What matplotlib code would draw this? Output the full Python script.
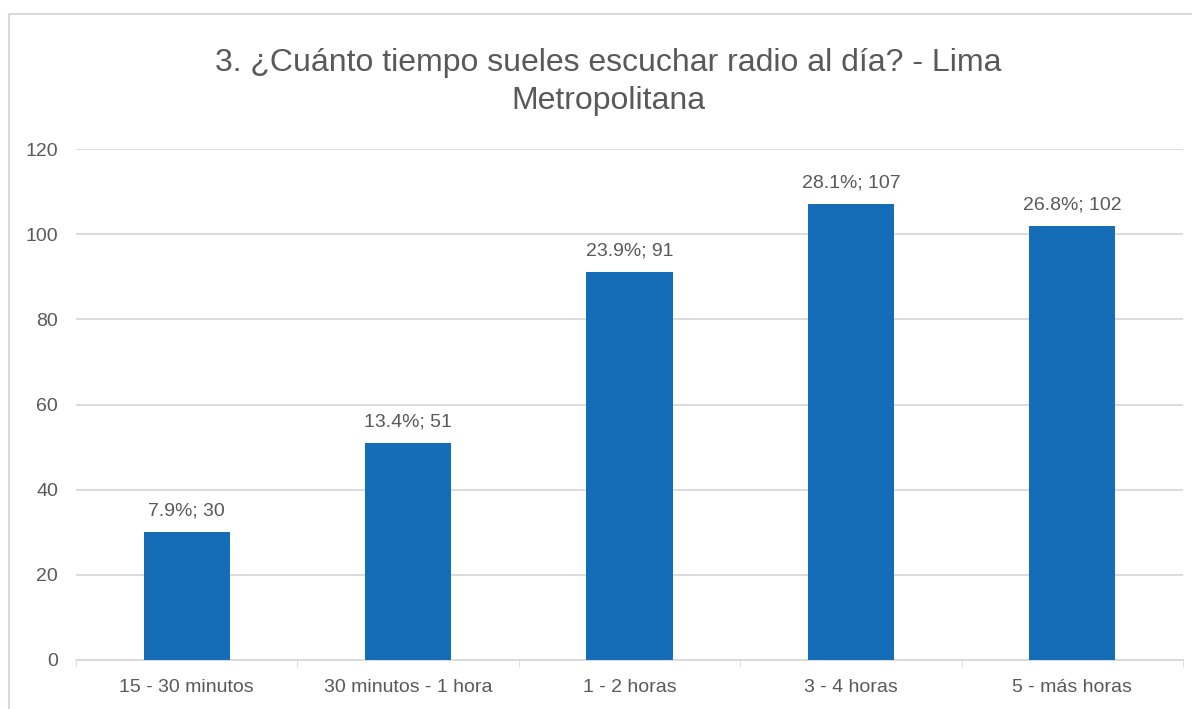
import matplotlib
matplotlib.use("Agg")
import matplotlib.pyplot as plt
from matplotlib.lines import Line2D

categories = ["15 - 30 minutos", "30 minutos - 1 hora", "1 - 2 horas", "3 - 4 horas", "5 - más horas"]
values = [30, 51, 91, 107, 102]
percents = ["7.9%", "13.4%", "23.9%", "28.1%", "26.8%"]
yticks = [0, 20, 40, 60, 80, 100, 120]
title = "3. ¿Cuánto tiempo sueles escuchar radio al día? - Lima\nMetropolitana"

plt.rcParams['font.family'] = ['Liberation Sans', 'DejaVu Sans']
W, H = 1192, 709
fig = plt.figure(figsize=(W/100, H/100), dpi=100)
ax = fig.add_axes([76/W, 1-660/H, (1183-76)/W, (660-149)/H])

bar_color = "#166DB7"
text_color = "#595959"
grid_color = "#D9D9D9"

x = list(range(len(categories)))
ax.bar(x, values, width=0.39, color=bar_color, zorder=3)
ax.set_xlim(-0.5, len(categories)-0.5)
ax.set_ylim(0, 120)
ax.set_yticks(yticks)
ax.set_yticklabels([str(v) for v in yticks], fontsize=14, color=text_color)
ax.set_xticks(x)
ax.set_xticklabels(categories, fontsize=14, color=text_color)
ax.tick_params(axis='y', length=0, pad=13)
ax.tick_params(axis='x', length=0, pad=14)
# category boundary ticks
ax.set_xticks([i - 0.5 for i in range(len(categories)+1)], minor=True)
ax.tick_params(axis='x', which='minor', length=5, color=grid_color, direction='out')
ax.grid(axis='y', color=grid_color, linewidth=1.3, zorder=0)
for s in ['top', 'right', 'left']:
    ax.spines[s].set_visible(False)
ax.spines['bottom'].set_color(grid_color)
ax.spines['bottom'].set_linewidth(1.3)

for xi, v, p in zip(x, values, percents):
    ax.annotate(f"{p}; {v}", (xi, v), xytext=(0, 9), textcoords='offset points',
                ha='center', va='bottom', fontsize=14, color=text_color)

fig.text(608/W, 1-82/H, title, ha='center', va='center', fontsize=23,
         color=text_color, linespacing=1.32)

# outer border (left & top visible)
fig.add_artist(Line2D([9/W, 9/W], [0, 1-14/H], transform=fig.transFigure, color=grid_color, linewidth=1.5))
fig.add_artist(Line2D([9/W, 1], [1-14/H, 1-14/H], transform=fig.transFigure, color=grid_color, linewidth=1.5))

fig.savefig("out.png", dpi=100)
